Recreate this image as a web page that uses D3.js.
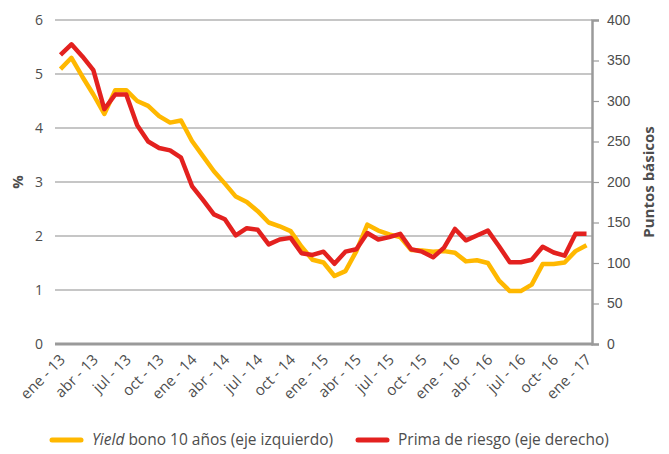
<!DOCTYPE html>
<html>
<head>
<meta charset="utf-8">
<script src="https://cdn.jsdelivr.net/npm/d3@7"></script>
<style>
  html, body { margin: 0; padding: 0; background: #fff; }
  svg { display: block; font-family: "Open Sans", "Noto Sans", sans-serif; }
  .tick-label { fill: #4d4d4d; font-size: 14px; }
  .x-label { fill: #4d4d4d; font-size: 15px; }
  .axis-title { fill: #4d4d4d; font-size: 15px; font-weight: bold; }
  .legend-text { fill: #4d4d4d; font-size: 15.5px; }
</style>
</head>
<body>
<div id="chart"></div>
<script>
// Monthly series, ene-13 .. ene-17
const months = ["ene","feb","mar","abr","may","jun","jul","ago","sep","oct","nov","dic"];
const dates = d3.range(49).map(i => months[i % 12] + " - " + (13 + Math.floor(i / 12)));

// Yield bono 10 años (%), eje izquierdo
const yieldValues = [
  5.09, 5.30, 4.95, 4.62, 4.26, 4.70, 4.70, 4.50, 4.41, 4.22, 4.10, 4.14,
  3.76, 3.48, 3.20, 2.97, 2.73, 2.63, 2.46, 2.25, 2.18, 2.09, 1.80, 1.56,
  1.51, 1.26, 1.35, 1.72, 2.21, 2.10, 2.03, 1.98, 1.74, 1.73, 1.71, 1.72,
  1.69, 1.53, 1.55, 1.50, 1.18, 0.98, 0.98, 1.10, 1.48, 1.48, 1.51, 1.72, 1.83
];

// Prima de riesgo (puntos básicos), eje derecho
const primaValues = [
  357, 370, 355, 338, 290, 308, 308, 270, 250, 242, 239, 230,
  195, 178, 160, 154, 134, 143, 141, 123, 129, 131, 112, 110,
  114, 99, 114, 117, 137, 129, 132, 136, 117, 114, 107, 119,
  142, 128, 134, 140, 121, 101, 101, 104, 120, 113, 109, 136, 136
];

// Every third month gets a label; "oct- 16" is written that way in the original
const xTickLabels = {
  0: "ene - 13", 3: "abr - 13", 6: "jul - 13", 9: "oct - 13",
  12: "ene - 14", 15: "abr - 14", 18: "jul - 14", 21: "oct - 14",
  24: "ene - 15", 27: "abr - 15", 30: "jul - 15", 33: "oct - 15",
  36: "ene - 16", 39: "abr - 16", 42: "jul - 16", 45: "oct- 16",
  48: "ene - 17"
};
const leftTicks = [0, 1, 2, 3, 4, 5, 6];
const rightTicks = [0, 50, 100, 150, 200, 250, 300, 350, 400];

const W = 669, H = 454;
const plot = { left: 55, right: 592, top: 20, bottom: 344 };
const YELLOW = "#ffb800", RED = "#e3211f";

const svg = d3.select("#chart").append("svg")
  .attr("width", W).attr("height", H).attr("viewBox", `0 0 ${W} ${H}`);

const x = d3.scalePoint().domain(dates).range([plot.left, plot.right]).padding(0.5);
const yL = d3.scaleLinear().domain([0, 6]).range([plot.bottom, plot.top]);
const yR = d3.scaleLinear().domain([0, 400]).range([plot.bottom, plot.top]);

// gridlines from the left axis
svg.append("g").selectAll("line")
  .data(leftTicks.filter(d => d > 0)).join("line")
  .attr("x1", plot.left).attr("x2", plot.right)
  .attr("y1", d => yL(d)).attr("y2", d => yL(d))
  .attr("stroke", "#b3b3b3").attr("stroke-width", 1.5);

// left tick labels (no axis line)
svg.append("g").selectAll("text")
  .data(leftTicks).join("text")
  .attr("class", "tick-label")
  .attr("x", 43).attr("y", d => yL(d)).attr("dy", "0.35em")
  .attr("text-anchor", "end")
  .text(d => d);

// right axis via d3.axisRight
const rAxis = svg.append("g")
  .attr("transform", `translate(${plot.right},0)`)
  .call(d3.axisRight(yR).tickValues(rightTicks).tickSize(7).tickPadding(8));
rAxis.select(".domain").attr("stroke", "#9a9a9a").attr("stroke-width", 2.5);
rAxis.selectAll(".tick line").attr("stroke", "#9a9a9a").attr("stroke-width", 1.2);
rAxis.selectAll(".tick text").attr("class", "tick-label")
  .style("font-family", "inherit").attr("font-size", null);

// bottom baseline
svg.append("line")
  .attr("x1", plot.left).attr("x2", plot.right + 1)
  .attr("y1", plot.bottom).attr("y2", plot.bottom)
  .attr("stroke", "#9a9a9a").attr("stroke-width", 3);

// x labels, rotated
svg.append("g").selectAll("text")
  .data(Object.keys(xTickLabels).map(Number)).join("text")
  .attr("class", "x-label")
  .attr("text-anchor", "end")
  .attr("transform", i => `translate(${x(dates[i]) + 2},${plot.bottom + 13}) rotate(-45)`)
  .attr("dy", "0.35em")
  .text(i => xTickLabels[i]);

// axis titles
svg.append("text").attr("class", "axis-title")
  .attr("transform", `translate(23,${(plot.top + plot.bottom) / 2}) rotate(-90)`)
  .attr("text-anchor", "middle").text("%");
svg.append("text").attr("class", "axis-title")
  .attr("transform", `translate(654,${(plot.top + plot.bottom) / 2}) rotate(-90)`)
  .attr("text-anchor", "middle").text("Puntos básicos");

// lines
const lineL = d3.line().x((d, i) => x(dates[i])).y(d => yL(d));
const lineR = d3.line().x((d, i) => x(dates[i])).y(d => yR(d));

svg.append("path").datum(yieldValues)
  .attr("d", lineL).attr("fill", "none")
  .attr("stroke", YELLOW).attr("stroke-width", 4.5).attr("stroke-linejoin", "round");
svg.append("path").datum(primaValues)
  .attr("d", lineR).attr("fill", "none")
  .attr("stroke", RED).attr("stroke-width", 4.5).attr("stroke-linejoin", "round");

// legend
const legendY = 440;
const lg = svg.append("g");
lg.append("line").attr("x1", 52).attr("x2", 81).attr("y1", legendY).attr("y2", legendY)
  .attr("stroke", YELLOW).attr("stroke-width", 5).attr("stroke-linecap", "round");
const t1 = lg.append("text").attr("class", "legend-text")
  .attr("x", 92).attr("y", legendY).attr("dy", "0.35em");
t1.append("tspan").attr("font-style", "italic").text("Yield");
t1.append("tspan").text(" bono 10 años (eje izquierdo)");

lg.append("line").attr("x1", 358).attr("x2", 387).attr("y1", legendY).attr("y2", legendY)
  .attr("stroke", RED).attr("stroke-width", 5).attr("stroke-linecap", "round");
lg.append("text").attr("class", "legend-text")
  .attr("x", 398).attr("y", legendY).attr("dy", "0.35em")
  .text("Prima de riesgo (eje derecho)");
</script>
</body>
</html>
